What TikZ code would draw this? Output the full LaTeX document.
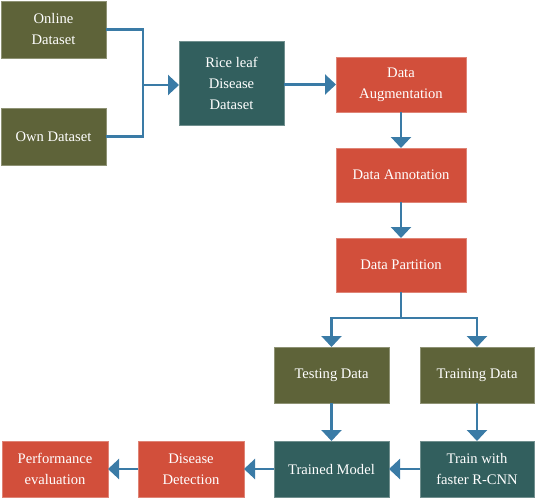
\documentclass[tikz,border=0pt]{standalone}
\usepackage{fontspec}
\setmainfont{Liberation Serif}
\newfontfamily\boxfont{Liberation Serif}
\usetikzlibrary{arrows.meta}
\definecolor{boxolive}{HTML}{5E6339}
\definecolor{boxteal}{HTML}{325F5E}
\definecolor{boxred}{HTML}{D24F3B}
\definecolor{linkblue}{HTML}{3A7BA6}
\begin{document}
\begin{tikzpicture}[x=1pt,y=-1pt,
  box/.style={fill=#1, draw=#1!70!white, line width=0.5pt, inner sep=0pt, outer sep=0pt,
    text=white, align=center, font=\boxfont\fontsize{14.6}{21}\selectfont},
  arr/.style={draw=linkblue, line width=2.2pt, -{Triangle[width=20pt,length=11pt]}},
  lnk/.style={draw=linkblue, line width=2.2pt}]
\useasboundingbox (0,0) rectangle (536,499);
\node[box=boxolive, minimum width=105pt, minimum height=57pt] (online) at (53.5,29.5) {Online\\Dataset};
\node[box=boxolive, minimum width=105pt, minimum height=57pt] (own) at (53.5,136.5) {Own Dataset};
\node[box=boxteal, minimum width=105pt, minimum height=84pt] (rice) at (231.5,83) {Rice leaf\\Disease\\Dataset};
\node[box=boxred, minimum width=130pt, minimum height=55pt] (aug) at (401,84.5) {Data\\Augmentation};
\node[box=boxred, minimum width=130pt, minimum height=54pt] (annot) at (401,175) {Data Annotation};
\node[box=boxred, minimum width=130pt, minimum height=54pt] (part) at (401,265) {Data Partition};
\node[box=boxolive, minimum width=115pt, minimum height=56pt] (test) at (331.5,375) {Testing Data};
\node[box=boxolive, minimum width=114pt, minimum height=56pt] (train) at (477,375) {Training Data};
\node[box=boxteal, minimum width=115pt, minimum height=56pt] (model) at (331.5,469) {Trained Model};
\node[box=boxteal, minimum width=114pt, minimum height=56pt] (fr) at (477,469) {Train with\\faster R-CNN};
\node[box=boxred, minimum width=106pt, minimum height=56pt] (det) at (191,469) {Disease\\Detection};
\node[box=boxred, minimum width=106pt, minimum height=56pt] (perf) at (55,469) {Performance\\evaluation};
\coordinate (j) at (143,85);
\coordinate (s) at (401,318);
\draw[lnk] (online.east) -| (j);
\draw[lnk] (own.east) -| (j);
\draw[arr] (j) -- (rice.west |- j);
\draw[arr] (rice.east |- aug.west) -- (aug.west);
\draw[arr] (aug.south) -- (annot.north);
\draw[arr] (annot.south) -- (part.north);
\draw[arr] (part.south) -- (s) -| (test.north);
\draw[arr] (s) -| (train.north);
\draw[arr] (test.south) -- (model.north);
\draw[arr] (train.south) -- (fr.north);
\draw[arr] (fr.west) -- (model.east);
\draw[arr] (model.west) -- (det.east);
\draw[arr] (det.west) -- (perf.east);
\end{tikzpicture}
\end{document}
